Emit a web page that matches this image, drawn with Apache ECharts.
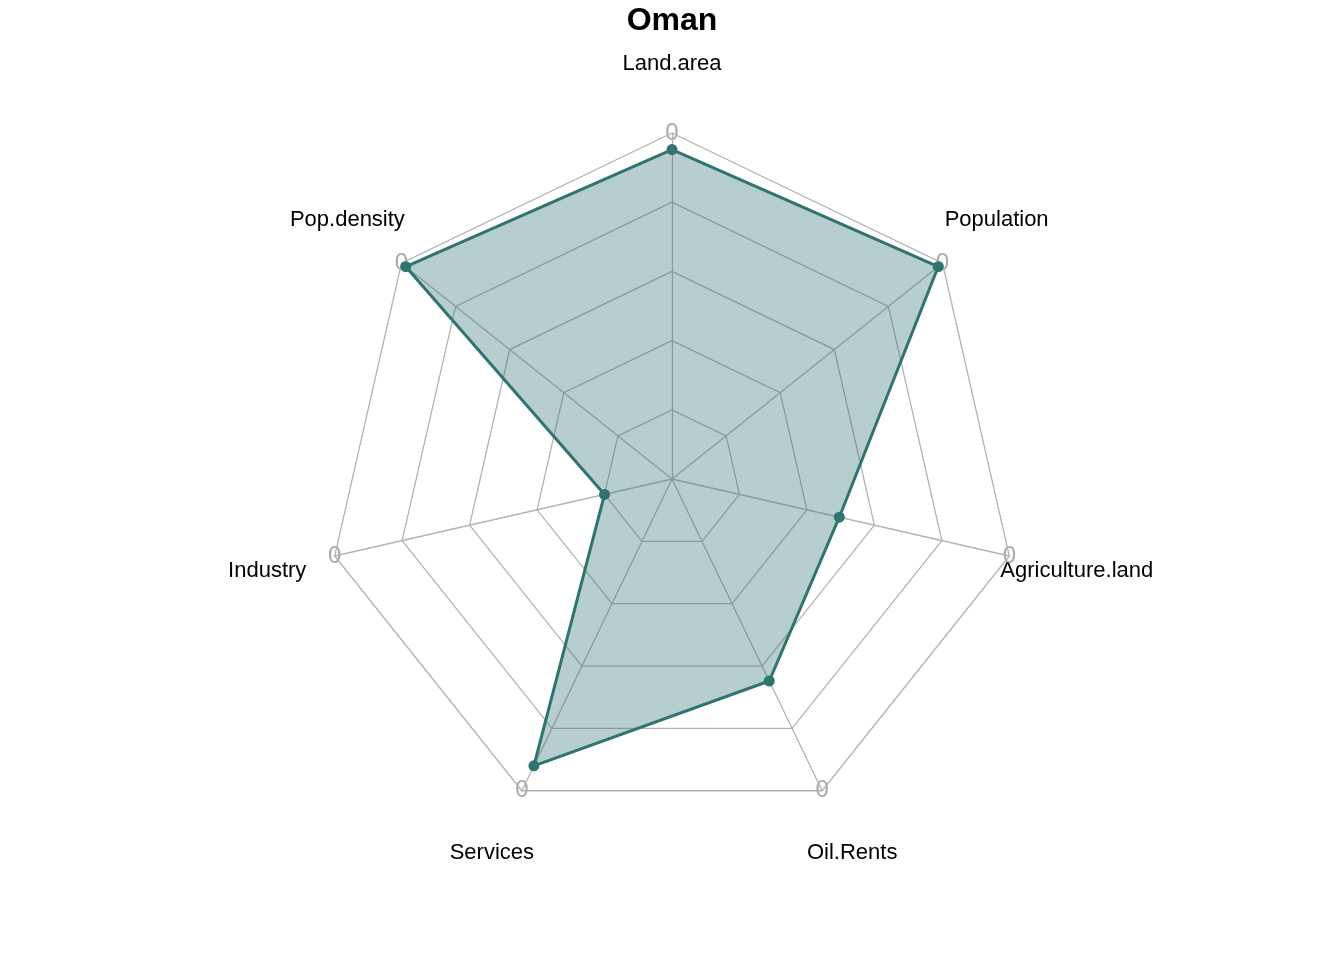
<!DOCTYPE html>
<html>
<head>
<meta charset="utf-8">
<script src="https://cdn.jsdelivr.net/npm/echarts@6/dist/echarts.min.js"></script>
<style>html,body{margin:0;padding:0;background:#fff}#chart{width:1344px;height:960px}</style>
</head>
<body>
<div id="chart"></div>
<script>
var categories = ['Land.area', 'Pop.density', 'Industry', 'Services', 'Oil.Rents', 'Agriculture.land', 'Population'];
var omanValues = [0.94, 0.98, 0.0, 0.90, 0.56, 0.37, 0.98];
var vertexLabel = '0';

var cx = 672, cy = 479, R = 346;
var myChart = echarts.init(document.getElementById('chart'));

var graphics = [];
for (var i = 0; i < categories.length; i++) {
    var a = Math.PI / 2 + i * 2 * Math.PI / categories.length;
    var lx = cx + Math.cos(a) * R * 1.2;
    var ly = cy - Math.sin(a) * R * 1.2;
    graphics.push({
        type: 'text', x: lx, y: ly,
        style: { text: categories[i], font: '22px Liberation Sans, Arial', fill: '#000', textAlign: 'center', textVerticalAlign: 'middle' }
    });
    graphics.push({
        type: 'text', x: cx + Math.cos(a) * R, y: cy - Math.sin(a) * R,
        style: { text: vertexLabel, font: '24px Liberation Sans, Arial', fill: '#aaa', textAlign: 'center', textVerticalAlign: 'middle' }
    });
}

var indicators = [];
for (var j = 0; j < categories.length; j++) {
    indicators.push({ name: categories[j], min: -0.25, max: 1 });
}

var option = {
    animation: false,
    title: {
        text: 'Oman', left: 'center', top: 0,
        textStyle: { fontSize: 32, fontWeight: 'bold', color: '#000', fontFamily: 'Liberation Sans, Arial' }
    },
    radar: {
        center: [cx, cy],
        radius: R,
        startAngle: 90,
        splitNumber: 5,
        indicator: indicators,
        axisName: { show: false },
        splitArea: { show: false },
        splitLine: { lineStyle: { color: '#b3b3b3', width: 1.3 } },
        axisLine: { lineStyle: { color: '#b3b3b3', width: 1.3 } },
        axisTick: { show: false }
    },
    series: [{
        type: 'radar',
        symbol: 'circle',
        symbolSize: 11,
        data: [{
            value: omanValues,
            lineStyle: { color: '#2f7471', width: 3 },
            itemStyle: { color: '#2f7471' },
            areaStyle: { color: 'rgba(47,116,113,0.5)' }
        }]
    }],
    graphic: graphics
};
myChart.setOption(option);
</script>
</body>
</html>
